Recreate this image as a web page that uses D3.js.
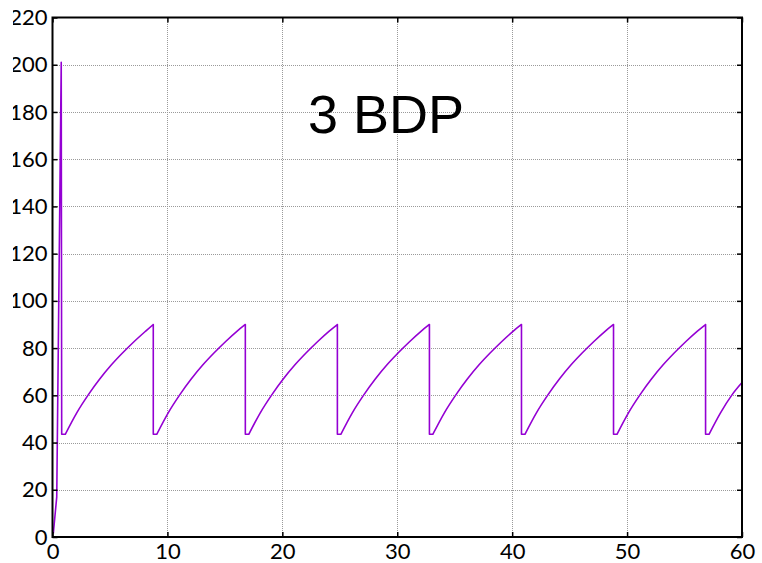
<!DOCTYPE html>
<html>
<head>
<meta charset="utf-8">
<script src="https://cdn.jsdelivr.net/npm/d3@7"></script>
<style>
  html, body { margin: 0; padding: 0; background: #fff; }
  svg { display: block; }
</style>
</head>
<body>
<svg id="chart" width="762" height="563"></svg>
<script>
// Time (s) and queue length samples of the sawtooth trace
const timeValues = [
  0.07, 0.37, 0.76, 0.80, 1.11,
  2.11, 3.11, 4.11, 5.11, 6.11, 7.11, 8.11, 8.77,
  8.77, 9.07, 10.07, 11.07, 12.07, 13.07, 14.07, 15.07, 16.07, 16.78,
  16.78, 17.08, 18.08, 19.08, 20.08, 21.08, 22.08, 23.08, 24.08, 24.79,
  24.79, 25.09, 26.09, 27.09, 28.09, 29.09, 30.09, 31.09, 32.09, 32.80,
  32.80, 33.10, 34.10, 35.10, 36.10, 37.10, 38.10, 39.10, 40.10, 40.81,
  40.81, 41.11, 42.11, 43.11, 44.11, 45.11, 46.11, 47.11, 48.11, 48.82,
  48.82, 49.12, 50.12, 51.12, 52.12, 53.12, 54.12, 55.12, 56.12, 56.83,
  56.83, 57.13, 58.13, 59.13, 60.00
];
const queueValues = [
  1.5, 17, 201, 43.5, 43.5,
  52.6, 60.2, 66.9, 72.8, 78.0, 82.8, 87.2, 90,
  43.5, 43.5, 52.6, 60.2, 66.9, 72.8, 78.0, 82.8, 87.2, 90,
  43.5, 43.5, 52.6, 60.2, 66.9, 72.8, 78.0, 82.8, 87.2, 90,
  43.5, 43.5, 52.6, 60.2, 66.9, 72.8, 78.0, 82.8, 87.2, 90,
  43.5, 43.5, 52.6, 60.2, 66.9, 72.8, 78.0, 82.8, 87.2, 90,
  43.5, 43.5, 52.6, 60.2, 66.9, 72.8, 78.0, 82.8, 87.2, 90,
  43.5, 43.5, 52.6, 60.2, 66.9, 72.8, 78.0, 82.8, 87.2, 90,
  43.5, 43.5, 52.6, 60.2, 65.4
];
const xTickValues = [0, 10, 20, 30, 40, 50, 60];
const yTickValues = [0, 20, 40, 60, 80, 100, 120, 140, 160, 180, 200, 220];
const titleText = "3 BDP";

const svg = d3.select("#chart");
const plotLeft = 52.5, plotRight = 742, plotTop = 17.5, plotBottom = 537;

const x = d3.scaleLinear().domain([0, 60]).range([plotLeft, plotRight]);
const y = d3.scaleLinear().domain([0, 220]).range([plotBottom, plotTop]);

// Dotted grid
const grid = svg.append("g")
  .attr("stroke", "#9a9a9a")
  .attr("stroke-width", 1)
  .attr("stroke-dasharray", "1,1")
  .attr("shape-rendering", "crispEdges");
grid.selectAll("line.gx").data(xTickValues.slice(1, -1)).join("line")
  .attr("class", "gx")
  .attr("x1", d => Math.round(x(d)) + 0.5).attr("x2", d => Math.round(x(d)) + 0.5)
  .attr("y1", plotTop).attr("y2", plotBottom);
grid.selectAll("line.gy").data(yTickValues.slice(1, -1)).join("line")
  .attr("class", "gy")
  .attr("y1", d => Math.round(y(d)) + 0.5).attr("y2", d => Math.round(y(d)) + 0.5)
  .attr("x1", plotLeft).attr("x2", plotRight);

// Trace: rising stretches (gradual growth) are smoothed with a monotone
// curve; the initial burst, drops and flat stretches stay straight.
const pts = timeValues.map((t, i) => [t, queueValues[i]]);
const runs = [];
let run = [pts[0]];
let rising = null;
for (let i = 1; i < pts.length; i++) {
  const up = pts[i][0] > pts[i - 1][0] && pts[i][1] > pts[i - 1][1] && pts[i][1] - pts[i - 1][1] < 40;
  if (rising === null || up === rising) {
    run.push(pts[i]);
    rising = up;
  } else {
    runs.push({ pts: run, smooth: rising });
    run = [pts[i - 1], pts[i]];
    rising = up;
  }
}
runs.push({ pts: run, smooth: rising });

const smoothLine = d3.line().x(d => x(d[0])).y(d => y(d[1])).curve(d3.curveMonotoneX);
const straightLine = d3.line().x(d => x(d[0])).y(d => y(d[1]));
const pathD = runs.map((r, i) => {
  const s = (r.smooth ? smoothLine : straightLine)(r.pts);
  return i === 0 ? s : s.replace(/^M/, "L");
}).join("");

svg.append("path")
  .attr("fill", "none")
  .attr("stroke", "#9400d3")
  .attr("stroke-width", 1.6)
  .attr("stroke-linejoin", "round")
  .attr("d", pathD);

// Axes with inward ticks on all four sides
const fontFamily = "Lato, 'Open Sans', sans-serif";
function styleAxis(g) {
  g.select(".domain").remove();
  g.selectAll(".tick line").attr("stroke", "#000").attr("stroke-width", 1.5);
  g.selectAll(".tick text").attr("fill", "#000")
    .style("font-family", fontFamily).style("font-size", "22px");
}

svg.append("g")
  .attr("transform", `translate(0,${plotBottom})`)
  .call(d3.axisBottom(x).tickValues(xTickValues).tickSizeInner(-5).tickSizeOuter(0).tickPadding(6))
  .call(styleAxis)
  .call(g => g.selectAll(".tick text").attr("dy", "0.71em"));

svg.append("g")
  .attr("transform", `translate(${plotRight},0)`)
  .call(d3.axisRight(y).tickValues(yTickValues).tickSizeInner(-5).tickSizeOuter(0).tickFormat(""))
  .call(styleAxis);

svg.append("g")
  .attr("transform", `translate(0,${plotTop})`)
  .call(d3.axisTop(x).tickValues(xTickValues).tickSizeInner(-5).tickSizeOuter(0).tickFormat(""))
  .call(styleAxis);

// Left labels are cut at the page's left margin
svg.append("defs").append("clipPath").attr("id", "labelClip")
  .append("rect").attr("x", 13).attr("y", 0).attr("width", 749).attr("height", 563);

svg.append("g")
  .attr("clip-path", "url(#labelClip)")
  .append("g")
  .attr("transform", `translate(${plotLeft},0)`)
  .call(d3.axisLeft(y).tickValues(yTickValues).tickSizeInner(-5).tickSizeOuter(0).tickPadding(5))
  .call(styleAxis);

// Frame
svg.append("rect")
  .attr("x", plotLeft).attr("y", plotTop)
  .attr("width", plotRight - plotLeft).attr("height", plotBottom - plotTop)
  .attr("fill", "none").attr("stroke", "#000").attr("stroke-width", 2);

// Title
svg.append("text")
  .attr("x", 386).attr("y", 133)
  .attr("text-anchor", "middle")
  .style("font-family", "'Liberation Sans', Arial, sans-serif")
  .style("font-size", "54px")
  .attr("fill", "#000")
  .text(titleText);
</script>
</body>
</html>
